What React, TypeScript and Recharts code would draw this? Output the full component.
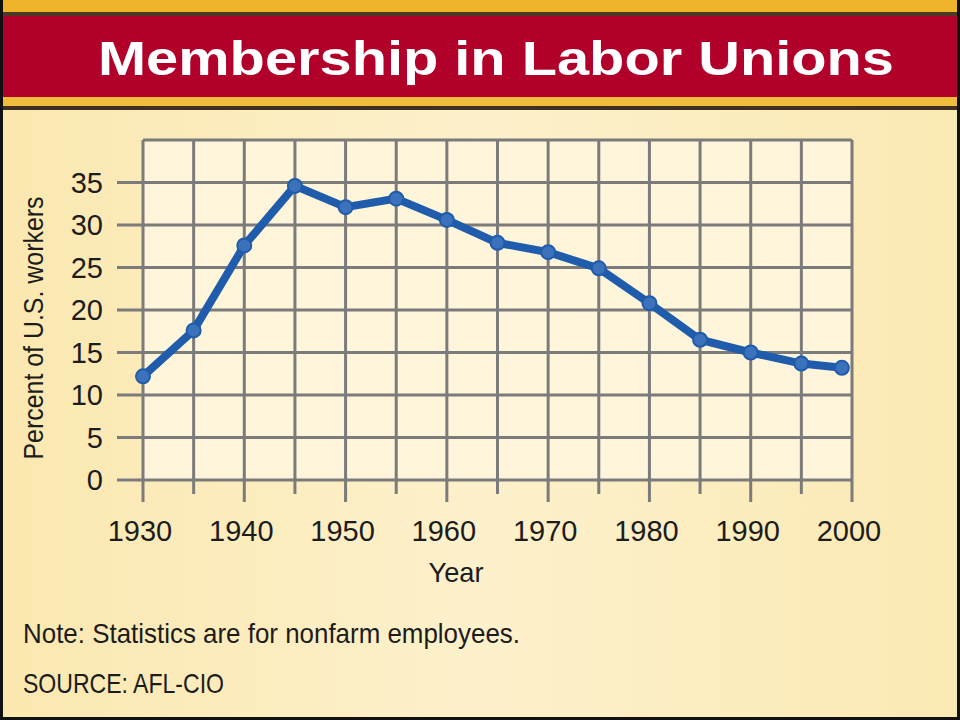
import { LineChart, Line, XAxis, YAxis, CartesianGrid } from 'recharts';

// values
const years = [1930, 1935, 1940, 1945, 1950, 1955, 1960, 1965, 1970, 1975, 1980, 1985, 1990, 1995, 1999];
const percents = [12.2, 17.6, 27.6, 34.6, 32.1, 33.1, 30.6, 27.9, 26.8, 24.9, 20.8, 16.5, 15.0, 13.7, 13.2];
const yearTicks = [1930, 1935, 1940, 1945, 1950, 1955, 1960, 1965, 1970, 1975, 1980, 1985, 1990, 1995, 2000];
const percentTicks = [0, 5, 10, 15, 20, 25, 30, 35, 40];

const data = years.map((year, i) => ({ year, percent: percents[i] }));

const GRID = '#7b7b7b';
const FONT = '"Liberation Sans", Arial, sans-serif';
const INK = '#1c1c1c';

const XTick = (props: any) => {
  const { x, y, payload } = props;
  const decade = payload.value % 10 === 0;
  return (
    <g>
      <line x1={x} x2={x} y1={y} y2={y + (decade ? 22 : 14)} stroke={GRID} strokeWidth={3} />
      {decade && (
        <text x={x - 3} y={y + 61} textAnchor="middle" fontSize={29} fontFamily={FONT} fill={INK}>
          {payload.value}
        </text>
      )}
    </g>
  );
};

const YTick = (props: any) => {
  const { x, y, payload } = props;
  if (payload.value === 40) return <g />;
  return (
    <g>
      <line x1={x - 26} x2={x} y1={y} y2={y} stroke={GRID} strokeWidth={3} />
      <text x={x - 40} y={y + 10} textAnchor="end" fontSize={29} fontFamily={FONT} fill={INK}>
        {payload.value}
      </text>
    </g>
  );
};

const Backdrop = () => (
  <svg width={960} height={720} style={{ position: 'absolute', left: 0, top: 0 }}>
    <defs>
      <linearGradient id="cream" x1="0" y1="0" x2="1" y2="0">
        <stop offset="0" stopColor="#fbe8b0" />
        <stop offset="0.5" stopColor="#fdf1cc" />
        <stop offset="1" stopColor="#fbe9b3" />
      </linearGradient>
    </defs>
    <rect x={0} y={0} width={960} height={720} fill="#111" />
    <rect x={3} y={0} width={954} height={717} fill="url(#cream)" />
    <rect x={3} y={0} width={954} height={12} fill="#efb42b" />
    <rect x={3} y={12} width={954} height={4} fill="#4b3b22" />
    <rect x={3} y={16} width={954} height={81} fill="#b1002a" />
    <rect x={3} y={97} width={954} height={9} fill="#f1bd3c" />
    <rect x={3} y={106} width={954} height={4} fill="#3e3121" />
    <text x={98} y={75} fontSize={49} fontWeight="bold" fontFamily={FONT} fill="#fff"
      textLength={796} lengthAdjust="spacingAndGlyphs">
      Membership in Labor Unions
    </text>
  </svg>
);

const Captions = () => (
  <svg width={960} height={720} style={{ position: 'absolute', left: 0, top: 0, pointerEvents: 'none' }}>
    <text x={43} y={328} transform="rotate(-90 43 328)" textAnchor="middle" fontSize={28}
      fontFamily={FONT} fill={INK} textLength={263} lengthAdjust="spacingAndGlyphs">
      Percent of U.S. workers
    </text>
    <text x={456} y={582} textAnchor="middle" fontSize={28} fontFamily={FONT} fill={INK}
      textLength={55} lengthAdjust="spacingAndGlyphs">
      Year
    </text>
    <text x={23} y={643} fontSize={28} fontFamily={FONT} fill={INK}
      textLength={497} lengthAdjust="spacingAndGlyphs">
      Note: Statistics are for nonfarm employees.
    </text>
    <text x={23} y={693} fontSize={28} fontFamily={FONT} fill={INK}
      textLength={201} lengthAdjust="spacingAndGlyphs">
      SOURCE: AFL-CIO
    </text>
  </svg>
);

export default function App() {
  return (
    <div style={{ position: 'relative', width: 960, height: 720 }}>
      <style>{'body { margin: 0; }'}</style>
      <Backdrop />
      <div style={{ position: 'absolute', left: 0, top: 0 }}>
        <LineChart width={960} height={720} data={data}
          margin={{ top: 140, right: 108, bottom: 180, left: 83 }}>
          <CartesianGrid stroke={GRID} strokeWidth={3} fill="#fef5da" fillOpacity={1} />
          <XAxis dataKey="year" type="number" domain={[1930, 2000]} ticks={yearTicks}
            axisLine={false} tickLine={false} tickSize={0} tickMargin={0} height={60}
            interval={0} tick={<XTick />} />
          <YAxis type="number" domain={[0, 40]} ticks={percentTicks} axisLine={false}
            tickLine={false} tickSize={0} tickMargin={0} width={60} interval={0} tick={<YTick />} />
          <Line type="linear" dataKey="percent" stroke="#1f5cab" strokeWidth={8}
            dot={{ r: 7, fill: '#3b72bb', stroke: '#1f5cab', strokeWidth: 2 }}
            isAnimationActive={false} />
        </LineChart>
      </div>
      <Captions />
    </div>
  );
}
